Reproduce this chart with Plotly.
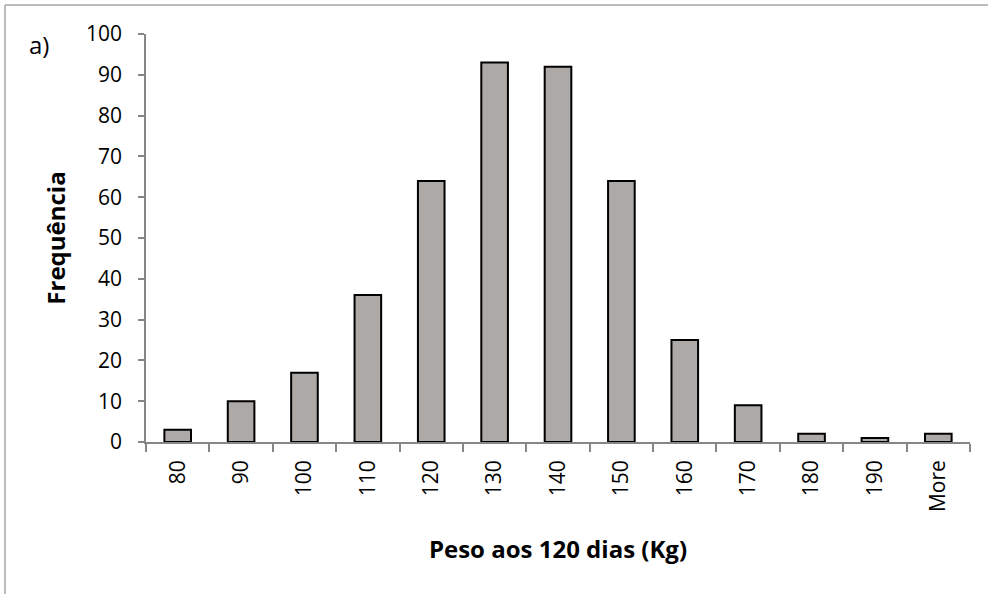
import plotly.graph_objects as go

categories = ["80", "90", "100", "110", "120", "130", "140", "150", "160", "170", "180", "190", "More"]
frequencies = [3, 10, 17, 36, 64, 93, 92, 64, 25, 9, 2, 1, 2]
y_ticks = [0, 10, 20, 30, 40, 50, 60, 70, 80, 90, 100]

FONT = "Open Sans"

fig = go.Figure()
fig.add_trace(go.Bar(
    x=categories, y=frequencies,
    marker=dict(color="#ADA9A7", line=dict(color="#000000", width=2)),
    width=0.42,
))

L, R, T, B = 146, 18, 34, 152
PW, PH = 988 - L - R, 594 - T - B

fig.update_layout(
    width=988, height=594,
    margin=dict(l=L, r=R, t=T, b=B),
    paper_bgcolor="white", plot_bgcolor="white",
    showlegend=False,
    font=dict(family=FONT, size=21, color="#000000"),
    xaxis=dict(
        type="category", automargin=False,
        showline=True, linecolor="#868686", linewidth=1.5,
        ticks="outside", tickson="boundaries", ticklen=8, tickcolor="#868686", tickwidth=1.5,
        tickangle=-90, tickfont=dict(size=21), ticklabelstandoff=8,
        showgrid=False, zeroline=False,
        title=dict(text="<b>Peso aos 120 dias (Kg)</b>", font=dict(size=24), standoff=30),
    ),
    yaxis=dict(
        range=[0, 100], tickvals=y_ticks, automargin=False,
        showline=True, linecolor="#868686", linewidth=1.5,
        ticks="outside", ticklen=6, tickcolor="#868686", tickwidth=1.5,
        tickfont=dict(size=21), ticklabelstandoff=12,
        showgrid=False, zeroline=False,
        title=dict(text="<b>Frequência</b>", font=dict(size=24), standoff=14),
    ),
    shapes=[
        dict(type="line", xref="paper", yref="paper",
             x0=(5 - L) / PW, x1=(5 - L) / PW, y0=(594 - B - 5) / PH, y1=-B / PH,
             line=dict(color="#A6A6A6", width=1.5)),
        dict(type="line", xref="paper", yref="paper",
             x0=(5 - L) / PW, x1=1 + R / PW, y0=(594 - B - 5) / PH, y1=(594 - B - 5) / PH,
             line=dict(color="#A6A6A6", width=1.5)),
    ],
    annotations=[dict(text="a)", xref="paper", yref="paper",
                      x=(27 - L) / PW, y=(594 - B - 44) / PH,
                      xanchor="left", yanchor="middle", showarrow=False,
                      font=dict(size=24))],
)

fig.write_html("out.html",
               config={"displayModeBar": False},
               post_script="document.body.style.margin='0';document.body.style.overflow='hidden';")
